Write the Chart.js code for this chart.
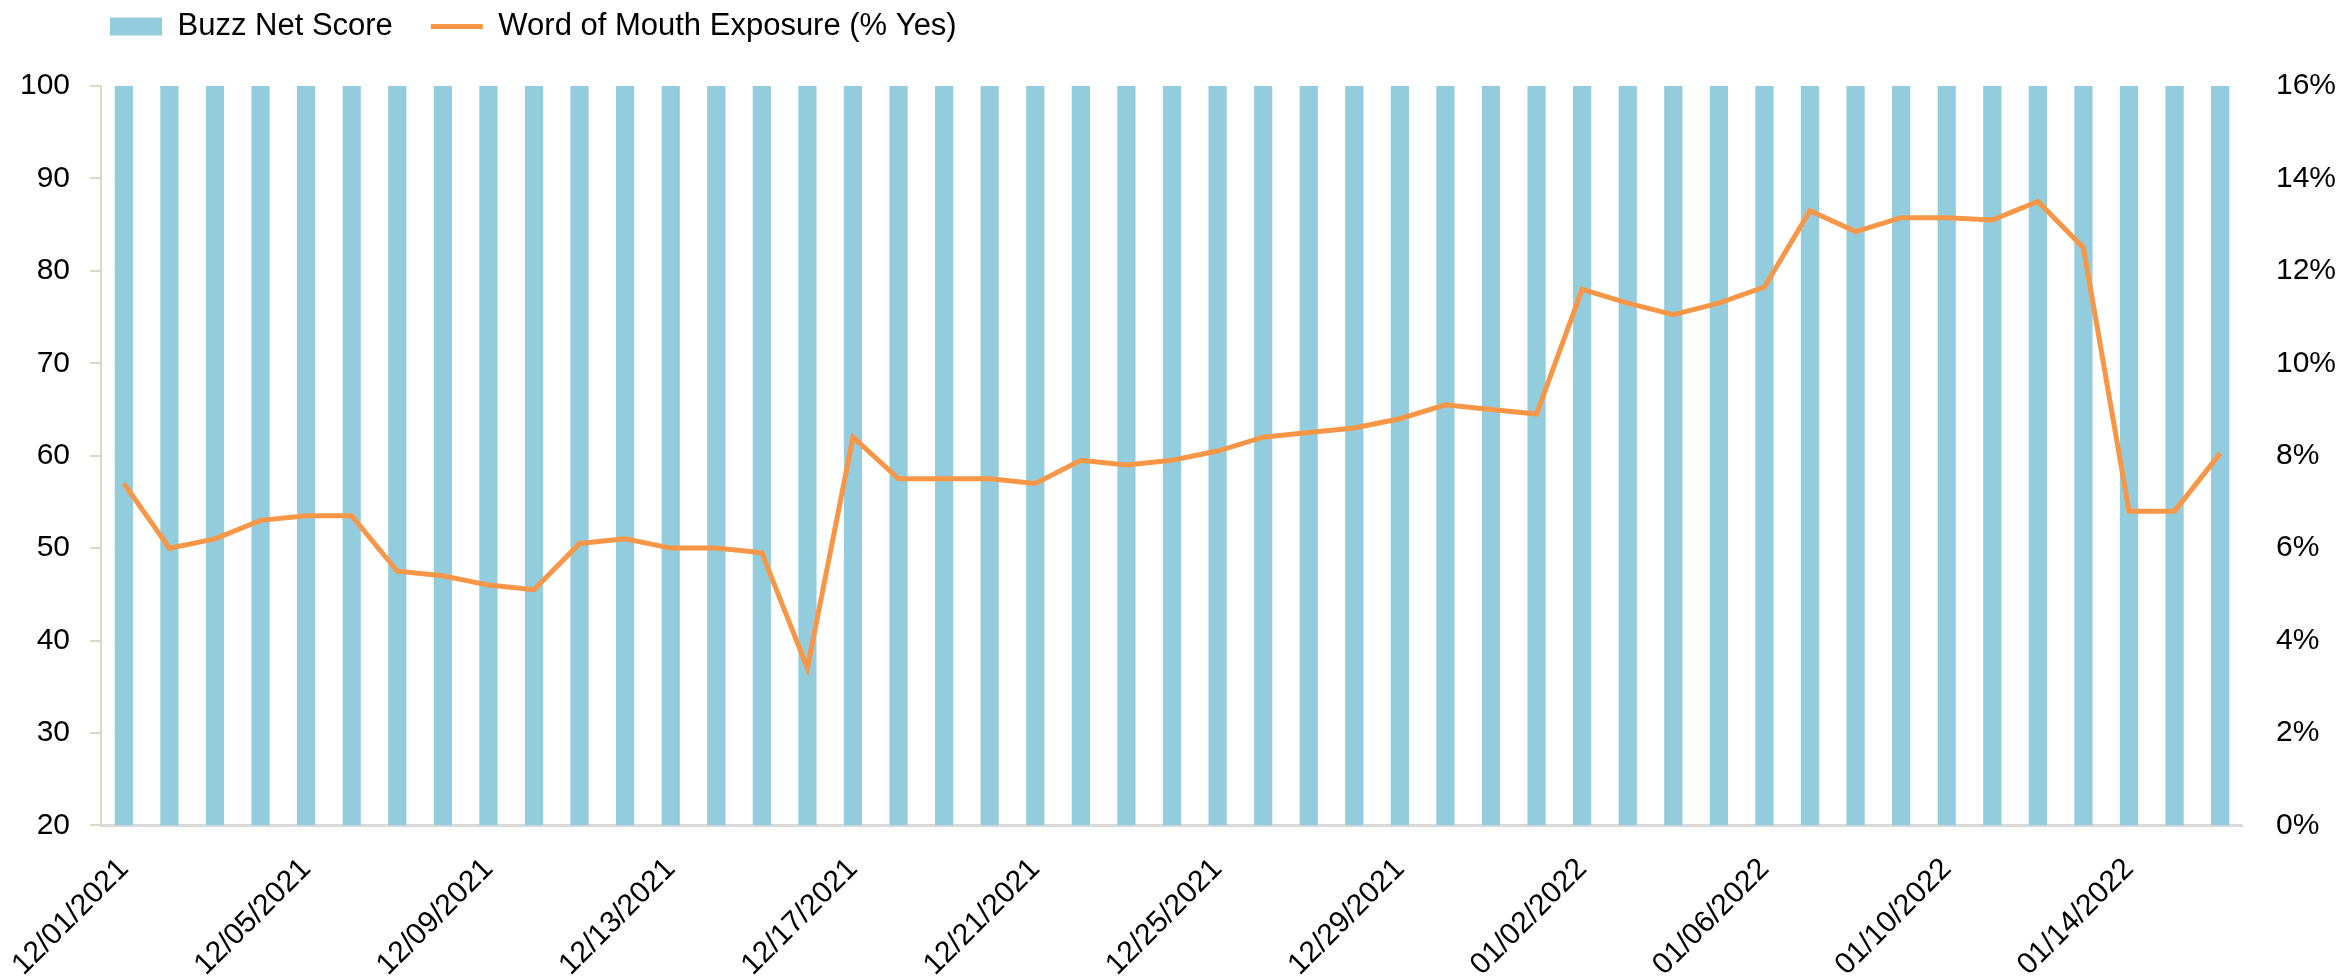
<!DOCTYPE html>
<html>
<head>
<meta charset="utf-8">
<script src="https://cdn.jsdelivr.net/npm/chart.js@4/dist/chart.umd.min.js"></script>
<style>
  body { margin: 0; background: #fff; }
</style>
</head>
<body>
<canvas id="buzzChart" width="2339" height="980"></canvas>
<script>
const dates = [
    '12/01/2021', '12/02/2021', '12/03/2021', '12/04/2021', '12/05/2021', '12/06/2021', '12/07/2021', '12/08/2021',
    '12/09/2021', '12/10/2021', '12/11/2021', '12/12/2021', '12/13/2021', '12/14/2021', '12/15/2021', '12/16/2021',
    '12/17/2021', '12/18/2021', '12/19/2021', '12/20/2021', '12/21/2021', '12/22/2021', '12/23/2021', '12/24/2021',
    '12/25/2021', '12/26/2021', '12/27/2021', '12/28/2021', '12/29/2021', '12/30/2021', '12/31/2021', '01/01/2022',
    '01/02/2022', '01/03/2022', '01/04/2022', '01/05/2022', '01/06/2022', '01/07/2022', '01/08/2022', '01/09/2022',
    '01/10/2022', '01/11/2022', '01/12/2022', '01/13/2022', '01/14/2022', '01/15/2022', '01/16/2022'
];

const buzzNetScore = [
    100, 100, 100, 100, 100, 100, 100, 100, 100, 100, 100, 100, 100, 100, 100, 100,
    100, 100, 100, 100, 100, 100, 100, 100, 100, 100, 100, 100, 100, 100, 100, 100,
    100, 100, 100, 100, 100, 100, 100, 100, 100, 100, 100, 100, 100, 100, 100
];

// % Yes
const wordOfMouth = [
    7.4, 6.0, 6.2, 6.6, 6.7, 6.7, 5.5, 5.4, 5.2, 5.1, 6.1, 6.2, 6.0, 6.0, 5.9, 3.4,
    8.4, 7.5, 7.5, 7.5, 7.4, 7.9, 7.8, 7.9, 8.1, 8.4, 8.5, 8.6, 8.8, 9.1, 9.0, 8.9,
    11.6, 11.3, 11.05, 11.3, 11.65, 13.3, 12.85, 13.15, 13.15, 13.1, 13.5, 12.5, 6.8, 6.8, 8.05
];

const leftMin = 20, leftMax = 100, leftStep = 10;
const rightMin = 0, rightMax = 16, rightStep = 2;
const labelEvery = 4;

const FONT = 'Liberation Sans, Arial, sans-serif';

// nudge the legend into the top-left corner like the original
const legendShift = {
    id: 'legendShift',
    afterLayout(chart) {
        chart.legend.left += 72;
        chart.legend.top -= 34;
    }
};

const ctx = document.getElementById('buzzChart').getContext('2d');

new Chart(ctx, {
    data: {
        labels: dates,
        datasets: [{
            type: 'bar',
            label: 'Buzz Net Score',
            data: buzzNetScore,
            backgroundColor: '#93CDDD',
            borderWidth: 0,
            categoryPercentage: 0.4,
            barPercentage: 1,
            pointStyle: 'rect',
            yAxisID: 'y',
            order: 2
        }, {
            type: 'line',
            label: 'Word of Mouth Exposure (% Yes)',
            data: wordOfMouth,
            borderColor: '#F79646',
            backgroundColor: '#F79646',
            borderWidth: 5,
            pointRadius: 0,
            pointStyle: 'line',
            tension: 0,
            yAxisID: 'y1',
            order: 1
        }]
    },
    options: {
        responsive: false,
        animation: false,
        layout: {
            padding: { left: 0, right: -22, top: 7, bottom: -29 }
        },
        plugins: {
            tooltip: { enabled: false },
            legend: {
                position: 'top',
                align: 'start',
                labels: {
                    usePointStyle: true,
                    pointStyleWidth: 52,
                    boxHeight: 18,
                    padding: 38,
                    color: '#000',
                    font: { family: FONT, size: 31 },
                    sort: (a, b) => a.datasetIndex - b.datasetIndex
                }
            }
        },
        scales: {
            x: {
                // let the rotated first label hang out to the left instead of shrinking the plot
                afterFit: scale => {
                    scale.paddingLeft = 0;
                    scale.paddingRight = 0;
                },
                grid: { display: true, drawOnChartArea: false, drawTicks: false },
                border: { color: '#D9D9D9', width: 3 },
                ticks: {
                    autoSkip: false,
                    maxRotation: 45,
                    minRotation: 45,
                    padding: 26,
                    color: '#000',
                    font: { family: FONT, size: 30 },
                    callback: function(value, index) {
                        return index % labelEvery === 0 ? this.getLabelForValue(value) : '';
                    }
                }
            },
            y: {
                position: 'left',
                min: leftMin,
                max: leftMax,
                grid: { drawOnChartArea: false, tickLength: 11, color: '#DDD8C4', lineWidth: 2 },
                border: { color: '#DDD8C4', width: 2 },
                ticks: {
                    stepSize: leftStep,
                    padding: 20,
                    color: '#000',
                    font: { family: FONT, size: 30 }
                }
            },
            y1: {
                position: 'right',
                min: rightMin,
                max: rightMax,
                grid: { display: false },
                border: { display: false },
                ticks: {
                    stepSize: rightStep,
                    padding: 25,
                    color: '#000',
                    font: { family: FONT, size: 30 },
                    callback: value => value + '%'
                }
            }
        }
    },
    plugins: [legendShift]
});
</script>
</body>
</html>
